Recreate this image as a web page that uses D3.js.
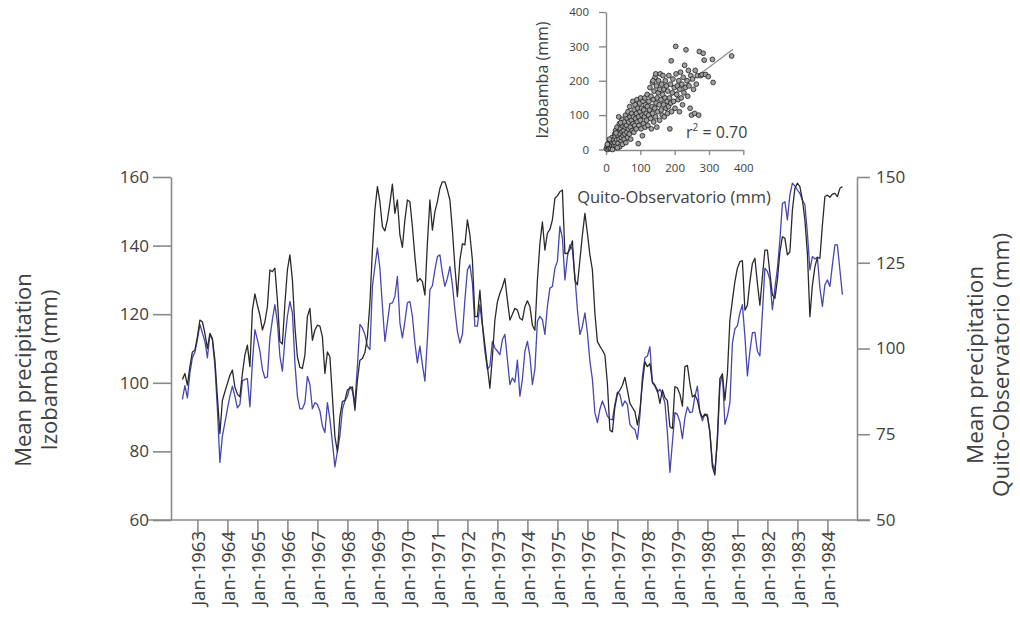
<!DOCTYPE html>
<html><head><meta charset="utf-8">
<script src="https://cdn.jsdelivr.net/npm/d3@7"></script>
<style>
body{margin:0;background:#fff}
svg text{font-family:"Open Sans",sans-serif;fill:#404040}
</style>
</head><body>
<svg id="chart" width="1020" height="626"></svg>
<script>
// ---------- DATA ----------
const firstYear = 1962, firstMonth = 7; // July 1962, monthly series
const izobamba = [
101.0,102.7,99.3,104.7,109.0,109.5,
113.4,118.3,117.8,114.4,110.0,114.4,112.9,106.6,95.9,85.2,94.9,97.4,
99.8,102.2,103.7,98.8,96.7,95.9,102.7,108.1,111.0,104.7,121.2,125.9,
122.6,119.7,115.4,117.8,122.2,132.9,132.4,133.4,124.1,112.0,111.3,123.1,
132.9,137.3,130.0,116.3,107.6,104.5,104.2,108.1,119.3,121.7,112.4,115.4,
116.8,116.5,113.4,102.7,109.0,107.6,95.9,84.3,79.9,90.1,94.5,94.9,
97.9,98.4,98.8,92.0,100.8,106.6,107.1,108.8,113.4,123.1,138.7,150.4,
157.2,152.8,145.5,144.3,147.5,152.3,157.9,149.4,153.3,143.1,139.5,147.5,
153.3,152.8,145.5,136.8,129.5,130.4,129.5,125.6,140.7,153.3,144.5,149.9,
152.8,156.7,158.6,158.6,156.2,153.3,144.5,133.8,125.1,135.8,140.5,140.2,
147.5,143.1,135.8,119.3,119.3,127.0,117.3,111.0,104.7,98.4,107.6,118.3,
123.6,126.1,128.0,130.4,124.1,118.3,120.0,121.7,121.2,118.8,118.3,122.2,
123.9,122.2,116.8,115.3,129.9,140.6,146.9,138.7,143.6,144.7,147.5,153.8,
154.5,155.7,156.2,137.7,137.7,138.9,141.4,129.9,128.5,135.8,143.1,149.4,
143.6,137.3,132.9,120.2,112.0,110.7,109.5,108.1,99.8,86.2,85.7,93.0,
96.7,97.9,99.3,101.6,97.9,94.0,92.8,91.6,87.7,92.0,99.8,106.1,
104.7,105.6,100.3,99.3,97.9,94.0,97.9,95.7,94.8,87.2,86.7,98.9,
98.5,96.7,93.2,104.7,105.1,99.8,95.9,96.4,94.9,91.6,89.9,90.9,
90.1,85.7,75.5,73.1,84.3,101.3,102.5,94.9,102.7,118.3,124.1,129.5,
133.4,135.3,135.6,121.2,122.6,129.5,134.8,136.3,129.0,122.6,130.9,138.7,
138.7,131.9,125.6,124.6,130.0,138.2,142.6,142.1,137.3,138.2,150.4,156.7,
158.2,157.2,153.3,147.5,137.7,119.3,128.5,133.8,136.6,136.3,146.0,154.3,
154.7,154.1,155.0,155.2,154.3,156.7,157.2
];
const quito = [
85.2,89.2,85.6,92.9,97.3,98.9,
102.6,107.0,104.5,102.1,97.3,104.1,102.6,94.9,82.3,66.8,74.5,78.4,
82.3,86.1,89.0,86.1,82.7,83.7,90.5,91.0,91.2,83.0,95.8,105.5,
102.6,99.2,93.9,91.4,91.7,103.1,108.4,112.8,107.5,97.8,93.4,102.6,
109.4,113.7,110.4,95.8,86.1,82.4,82.4,84.2,91.9,89.5,82.4,84.2,
83.7,81.8,77.4,75.5,84.2,79.4,72.6,65.5,70.0,74.5,82.3,84.7,
86.0,88.9,87.6,84.2,94.9,107.0,106.0,104.1,100.7,99.7,118.1,123.9,
129.3,123.4,112.3,102.1,107.5,113.1,113.3,115.2,121.0,107.5,103.1,107.9,
113.3,113.7,109.4,101.6,95.8,100.7,95.3,90.5,102.6,117.1,118.3,122.9,
126.8,127.3,122.0,118.1,120.5,123.9,118.6,111.3,105.0,101.6,104.1,114.2,
122.9,124.4,119.1,106.5,106.5,112.8,106.5,99.2,93.9,94.9,102.1,100.2,
99.2,98.2,102.6,104.1,96.8,89.5,91.4,90.2,96.6,86.1,91.0,99.2,
102.1,97.8,89.5,93.9,107.9,109.4,108.4,104.1,112.3,117.6,118.1,123.4,
125.4,135.6,132.2,120.0,126.8,130.2,128.8,121.0,111.3,104.1,106.5,110.4,
104.6,96.3,91.0,81.3,78.4,82.3,84.7,82.7,80.3,79.4,79.2,83.7,
87.3,86.6,83.2,84.7,83.7,77.9,76.9,76.4,73.5,80.3,91.9,97.3,
97.8,100.5,90.0,89.0,87.3,88.1,86.6,84.2,75.5,63.9,72.6,81.3,
80.8,78.6,73.7,79.8,83.0,81.3,81.5,86.1,89.0,81.3,78.9,80.8,
80.8,75.5,66.8,64.3,73.0,89.0,92.7,77.9,80.3,84.2,101.6,105.7,
106.7,110.4,112.8,103.6,92.0,99.2,104.6,104.7,99.2,97.8,110.4,123.4,
122.5,120.0,111.3,117.6,123.4,131.7,142.3,142.8,137.5,144.8,148.2,147.4,
146.2,145.2,143.3,141.9,133.6,122.9,126.8,126.1,126.6,117.6,112.3,118.6,
120.0,118.1,124.4,130.2,130.2,122.9,115.7
];
const tickYears = d3.range(1963, 1985);
const leftTicks = [60, 80, 100, 120, 140, 160];
const rightTicks = [50, 75, 100, 125, 150];
const leftTitle = ["Mean precipitation", "Izobamba (mm)"];
const rightTitle = ["Mean precipitation", "Quito-Observatorio (mm)"];

// inset scatter: monthly totals (mm), Quito-Observatorio (x) vs Izobamba (y)
const scatterQuito = [
1,3,5,6,8,9,11,12,14,15,17,18,20,21,23,24,25,10,4,19,
26,27,28,30,31,32,34,35,36,38,39,40,41,42,44,45,46,47,48,49,50,33,37,43,29,
52,53,54,55,56,57,58,60,61,62,63,64,65,66,68,69,70,71,72,74,75,76,78,79,80,81,82,84,85,86,88,89,90,91,93,94,95,96,98,99,
100,101,102,104,105,106,108,109,110,112,113,114,115,117,118,120,121,122,124,125,127,128,130,131,132,134,135,136,138,139,140,142,143,144,146,147,148,149,145,137,
151,152,153,155,156,157,158,160,161,162,164,165,166,168,169,170,172,173,175,176,178,179,180,182,183,185,186,188,189,190,191,193,195,197,199,
201,203,204,206,208,210,212,214,215,217,219,221,223,225,227,229,231,233,236,238,240,242,245,247,249,
252,255,258,260,263,266,270,272,276,280,283,286,290,298,310,312,366];
const scatterIzobamba = [
2,8,0,12,4,20,7,15,2,25,10,35,5,18,28,12,45,30,15,0,
20,38,55,10,28,65,42,18,50,30,75,8,45,60,25,35,88,52,15,68,40,5,95,78,48,
55,30,80,45,65,100,20,70,50,90,35,110,60,80,45,125,95,65,30,85,105,55,140,75,95,50,115,70,130,90,60,105,145,80,120,17,95,70,135,110,
85,150,60,120,100,40,140,75,115,95,150,65,130,105,85,160,125,70,100,140,115,180,90,155,60,125,195,105,145,80,170,120,210,95,135,185,65,150,220,200,
110,165,200,130,85,175,220,145,115,190,100,160,215,130,175,95,150,200,120,185,140,105,170,125,215,150,60,190,135,258,110,165,205,140,180,
120,300,220,160,185,145,200,110,175,225,150,190,130,210,165,245,180,290,200,155,230,185,120,215,100,
205,175,105,230,190,215,100,285,215,218,280,260,218,212,262,195,272];
const scatterTicks = [0, 100, 200, 300, 400];
const fit = {slope: 0.75, intercept: 14, from: 0, to: 370};
const r2Text = "0.70";

// ---------- CHART ----------
const svg = d3.select("#chart");
const axisColor = "#8a8a8a";
const m0 = firstYear * 12 + (firstMonth - 1);
const mEnd = m0 + izobamba.length - 1;

const x = d3.scaleLinear().domain([m0, mEnd]).range([182.4, 842.4]);
const yL = d3.scaleLinear().domain([60, 160]).range([520, 177]);
const yR = d3.scaleLinear().domain([50, 150]).range([520, 177]);

// bottom axis baseline
svg.append("line").attr("x1", 148).attr("x2", 870).attr("y1", 520).attr("y2", 520)
  .attr("stroke", axisColor).attr("stroke-width", 1.6);

const gL = svg.append("g").attr("transform", "translate(171,0)")
  .call(d3.axisLeft(yL).tickValues(leftTicks).tickSize(18).tickSizeOuter(0).tickPadding(4));
const gR = svg.append("g").attr("transform", "translate(857,0)")
  .call(d3.axisRight(yR).tickValues(rightTicks).tickSize(13).tickSizeOuter(0).tickPadding(6));
const gB = svg.append("g").attr("transform", "translate(0,520)")
  .call(d3.axisBottom(x).tickValues(tickYears.map(y => y * 12)).tickSize(16).tickSizeOuter(0)
    .tickFormat(v => "Jan-" + Math.round(v / 12)));
gB.select(".domain").remove();
gB.selectAll(".tick text")
  .attr("transform", "rotate(-90)")
  .attr("text-anchor", "end")
  .attr("x", -11).attr("y", 0).attr("dy", "0.36em");

[gL, gR, gB].forEach(g => {
  g.selectAll(".domain").attr("stroke", axisColor).attr("stroke-width", 1.6);
  g.selectAll(".tick line").attr("stroke", axisColor).attr("stroke-width", 1.6);
  g.selectAll("text").attr("font-family", "Open Sans").attr("fill", "#404040");
});
gL.selectAll("text").attr("font-size", 17);
gR.selectAll("text").attr("font-size", 17);
gB.selectAll("text").attr("font-size", 18.5);

// series
const lineL = d3.line().x((d, i) => x(m0 + i)).y(d => yL(d));
const lineR = d3.line().x((d, i) => x(m0 + i)).y(d => yR(d));
svg.append("path").datum(quito).attr("d", lineR).attr("fill", "none")
  .attr("stroke", "#4646b4").attr("stroke-width", 1.3).attr("stroke-linejoin", "round");
svg.append("path").datum(izobamba).attr("d", lineL).attr("fill", "none")
  .attr("stroke", "#2a2a2a").attr("stroke-width", 1.3).attr("stroke-linejoin", "round");

// axis titles
function vTitle(lines, xs, cy, size) {
  lines.forEach((t, i) => {
    svg.append("text").attr("transform", `translate(${xs[i]},${cy}) rotate(-90)`)
      .attr("text-anchor", "middle").attr("font-size", size).attr("fill", "#222").text(t);
  });
}
vTitle(leftTitle, [31, 57], 370, 22);
vTitle(rightTitle, [983, 1009], 365, 22.5);

// ---------- INSET SCATTER ----------
const sx = d3.scaleLinear().domain([0, 400]).range([606, 743.3]);
const sy = d3.scaleLinear().domain([0, 400]).range([149.5, 12]);
const gi = svg.append("g");
const gsx = gi.append("g").attr("transform", "translate(0,150)")
  .call(d3.axisBottom(sx).tickValues(scatterTicks).tickSize(5).tickSizeOuter(0).tickPadding(9));
const gsy = gi.append("g").attr("transform", "translate(606,0)")
  .call(d3.axisLeft(sy).tickValues(scatterTicks).tickSize(7).tickSizeOuter(0).tickPadding(10));
[gsx, gsy].forEach(g => {
  g.selectAll(".domain,.tick line").attr("stroke", axisColor).attr("stroke-width", 1.4);
  g.selectAll("text").attr("font-size", 11.5).attr("font-family", "Open Sans").attr("fill", "#404040");
});
gi.append("line")
  .attr("x1", sx(fit.from)).attr("y1", sy(fit.slope * fit.from + fit.intercept))
  .attr("x2", sx(fit.to)).attr("y2", sy(fit.slope * fit.to + fit.intercept))
  .attr("stroke", "#8c8c8c").attr("stroke-width", 1.2);
gi.selectAll("circle").data(scatterQuito).join("circle")
  .attr("cx", d => sx(d)).attr("cy", (d, i) => sy(scatterIzobamba[i]))
  .attr("r", 2.4).attr("fill", "#a0a0a0").attr("stroke", "#1e1e1e").attr("stroke-width", 0.8);
gi.append("text").attr("transform", "translate(548,80) rotate(-90)").attr("text-anchor", "middle")
  .attr("font-size", 16).attr("fill", "#333").text("Izobamba (mm)");
gi.append("text").attr("x", 674).attr("y", 203).attr("text-anchor", "middle")
  .attr("font-size", 16.5).attr("fill", "#333").text("Quito-Observatorio (mm)");
const r2 = gi.append("text").attr("x", 686).attr("y", 138).attr("font-size", 16).attr("fill", "#333");
r2.append("tspan").text("r");
r2.append("tspan").attr("font-size", 10).attr("dy", -7).text("2");
r2.append("tspan").attr("dy", 7).text(" = " + r2Text);
</script>
</body></html>
